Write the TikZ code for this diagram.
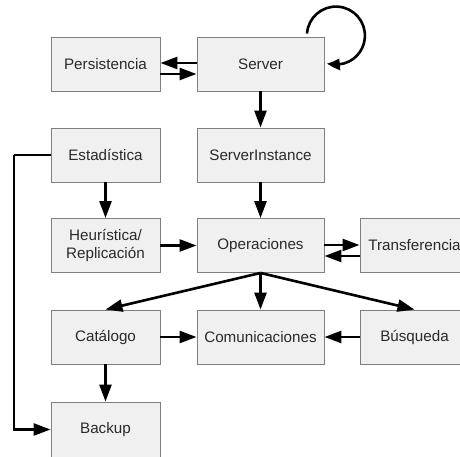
\documentclass[tikz,border=0pt]{standalone}
\usepackage{fontspec}
\setmainfont{Liberation Sans}
\usetikzlibrary{arrows.meta,bending}
\definecolor{boxfill}{HTML}{F0F0F0}
\definecolor{boxline}{HTML}{7F7F7F}
\definecolor{boxtext}{HTML}{2A2A2A}
\begin{document}
\begin{tikzpicture}[x=1bp,y=-1bp,
  modbox/.style={draw=boxline,line width=0.9bp,fill=boxfill,text=boxtext,
    minimum height=54bp,inner sep=0pt,align=center,
    font=\fontsize{15.2bp}{18bp}\selectfont},
  narrow/.style={modbox,minimum width=109bp},
  wide/.style={modbox,minimum width=127bp},
  arr/.style={line width=2.6bp,-{Triangle[length=17bp,width=12bp]}},
  looparr/.style={line width=2.6bp,-{Triangle[length=13bp,width=11bp,bend]}},
  link/.style={line width=2.6bp}]
\useasboundingbox (0,0) rectangle (460,457);

% modules
\node[narrow] (pers) at (105.5,64)  {Persistencia};
\node[wide]   (srv)  at (260.5,64)  {Server};
\node[narrow] (est)  at (105.5,155) {Estadística};
\node[wide]   (inst) at (260.5,155) {ServerInstance};
\node[narrow] (heur) at (105.5,245.5) {Heurística/\\Replicación};
\node[wide]   (ops)  at (260.5,245.5) {Operaciones};
\node[narrow] (tra)  at (414.5,245.5) {Transferencia};
\node[narrow] (cat)  at (105.5,337) {Catálogo};
\node[wide]   (com)  at (260.5,337) {Comunicaciones};
\node[narrow] (bus)  at (414.5,337) {Búsqueda};
\node[narrow,minimum height=55bp] (bak) at (105.5,429.5) {Backup};

% dependencies (yshift is measured upwards on the page)
\draw[arr] ([yshift=1bp]srv.west) -- ([yshift=1bp]pers.east);
\draw[arr] ([yshift=-10bp]pers.east) -- ([yshift=-10bp]srv.west);
\draw[looparr] ([xshift=46.5bp,yshift=3bp]srv.north) arc[start angle=176,end angle=-108,radius=29bp];
\draw[arr] (srv) -- (inst);
\draw[arr] (est) -- (heur);
\draw[arr] (inst) -- (ops);
\draw[arr] (heur) -- (ops);
\draw[arr] ([yshift=0.5bp]ops.east) -- ([yshift=0.5bp]tra.west);
\draw[arr] ([yshift=-10.5bp]tra.west) -- ([yshift=-10.5bp]ops.east);
\draw[arr] (ops.south) -- (cat.north);
\draw[arr] (ops.south) -- (com.north);
\draw[arr] (ops.south) -- (bus.north);
\draw[arr] (cat) -- (com);
\draw[arr] (bus) -- (com);
\draw[arr] (cat) -- (bak);
\coordinate (bend) at (14,155);
\draw[link] (est.west) -- (bend);
\draw[arr] (bend) |- (bak.west);
\end{tikzpicture}
\end{document}
